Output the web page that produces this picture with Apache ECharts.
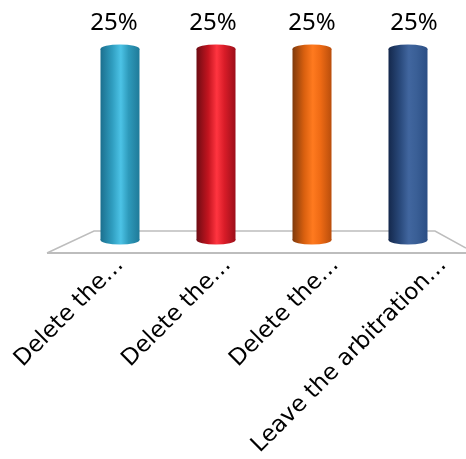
<!DOCTYPE html>
<html><head><meta charset="utf-8">
<style>html,body{margin:0;padding:0;background:#fff}#c{width:466px;height:459px}</style>
<script src="https://cdn.jsdelivr.net/npm/echarts@6/dist/echarts.min.js"></script>
</head><body><div id="c"></div>
<script>
const categories = ['Delete the…','Delete the…','Delete the…','Leave the arbitration…'];
const values = [25,25,25,25];
const ramps = [
 ['#1c6f8e','#2f9dbf','#4cc3e6','#2e9abb','#1f7a99'],
 ['#6e0c14','#c3141f','#ff3540','#d81c28','#9c0f1a'],
 ['#7f3a0c','#d9600f','#ff7a1f','#ee6a14','#b94e0c'],
 ['#14284c','#2a4a7c','#41669f','#3a5f96','#2b4e85']
];
const labelShift = [-6,-3,0,6];
const grad = r => new echarts.graphic.LinearGradient(0,0,1,0,[
 {offset:0,color:r[0]},{offset:.3,color:r[1]},{offset:.52,color:r[2]},{offset:.72,color:r[3]},{offset:1,color:r[4]}]);
const chart = echarts.init(document.getElementById('c'),null,{renderer:'canvas'});
chart.setOption({
 animation:false,
 backgroundColor:'#fff',
 grid:[{left:72,width:384,top:49,height:191},{left:120,width:323,top:49,height:191}],
 graphic:[{type:'polyline',z:0,shape:{points:[[47,253],[94,231],[435,231],[466,248]]},style:{fill:null,stroke:'#bdbdbd',lineWidth:1.5}},
          {type:'line',z:0,shape:{x1:47,y1:253,x2:466,y2:253},style:{stroke:'#bdbdbd',lineWidth:2}}],
 xAxis:[{type:'category',gridIndex:0,data:categories,axisLine:{show:false},axisTick:{show:false},axisLabel:{show:false}},
  {type:'category',gridIndex:1,boundaryGap:false,data:categories,axisLine:{show:false},axisTick:{show:false},
   axisLabel:{rotate:45,interval:0,margin:38,color:'#000',fontFamily:'DejaVu Sans',fontSize:23,hideOverlap:false,showMinLabel:true,showMaxLabel:true}}],
 yAxis:[{type:'value',gridIndex:0,min:0,max:25,show:false},{type:'value',gridIndex:1,min:0,max:25,show:false}],
 series:[
  {type:'pictorialBar',z:3,symbol:'circle',symbolPosition:'start',symbolSize:[39,9],symbolOffset:[0,'50%'],
   data:values.map((v,i)=>({value:v,itemStyle:{color:grad(ramps[i])}}))},
  {type:'bar',z:4,barWidth:39,
   data:values.map((v,i)=>({value:v,itemStyle:{color:grad(ramps[i])},
     label:{show:true,position:'top',distance:14,offset:[labelShift[i],0],formatter:'{c}%',color:'#000',fontFamily:'Noto Sans',fontSize:24}}))},
  {type:'pictorialBar',z:5,symbol:'circle',symbolPosition:'end',symbolSize:[39,9],symbolOffset:[0,'-50%'],
   data:values.map((v,i)=>({value:v,itemStyle:{color:grad(ramps[i])}}))}
 ]
});
</script></body></html>
